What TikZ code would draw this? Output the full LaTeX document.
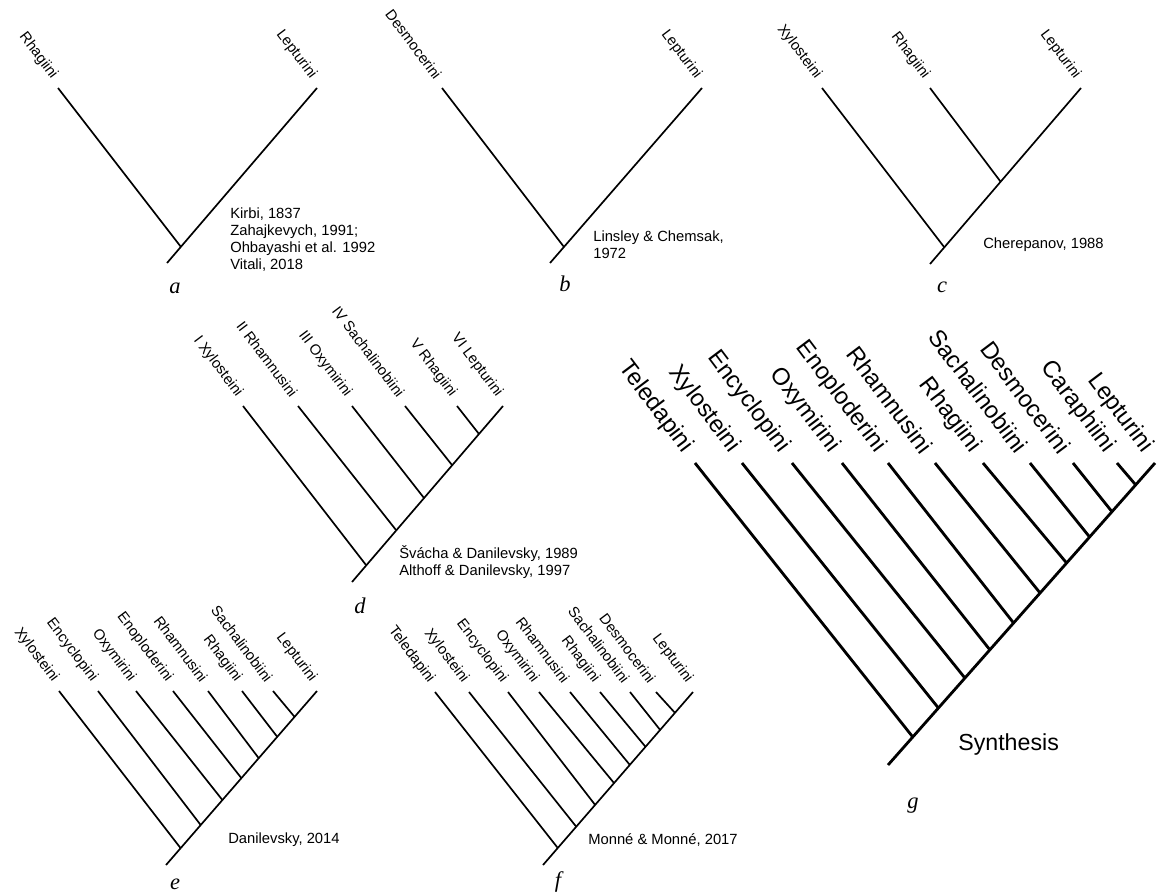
\documentclass[tikz,border=0pt]{standalone}
\usepackage{fontspec}
\setmainfont{Liberation Sans}
\newfontfamily\panelfont{Liberation Serif}
\tikzset{
  branch/.style={line width=1.2pt},
  bigbranch/.style={line width=2pt},
  taxon/.style={anchor=east, rotate=-53, inner sep=0pt, font=\fontsize{10.5}{12}\selectfont},
  bigtaxon/.style={anchor=east, rotate=-53, inner sep=0pt, font=\fontsize{17}{20}\selectfont},
  source/.style={anchor=north west, inner sep=0pt, align=left, font=\fontsize{10.5}{12.2}\selectfont},
  panel/.style={anchor=base, inner sep=0pt, font=\fontsize{16}{18}\panelfont\itshape}
}
\begin{document}
\begin{tikzpicture}[x=0.025cm, y=-0.025cm]
\useasboundingbox (0,0) rectangle (1168,894);
% a
\coordinate (a1) at (58,88);
\coordinate (a2) at (317,88);
\coordinate (aJ) at (181,247);
\coordinate (aR) at (167,263);
\draw [branch] (a1) -- (aJ);
\draw [branch] (aR) -- (a2);
\node [taxon] (la1) at ([xshift=-2.5pt,yshift=7.5pt]a1) {Rhagiini};
\node [taxon] (la2) at ([xshift=-2.5pt,yshift=7.5pt]a2) {Lepturini};
\node [source] (sa) at (230,207.5) {Kirbi, 1837\\Zahajkevych, 1991;\\Ohbayashi et al. 1992\\Vitali, 2018};
\node [panel] (pa) at (175,293) {a};
% b
\coordinate (b1) at (442,88);
\coordinate (b2) at (702,88);
\coordinate (bJ) at (564,247);
\coordinate (bR) at (550,263);
\draw [branch] (b1) -- (bJ);
\draw [branch] (bR) -- (b2);
\node [taxon] (lb1) at ([xshift=-2.5pt,yshift=7.5pt]b1) {Desmocerini};
\node [taxon] (lb2) at ([xshift=-2.5pt,yshift=7.5pt]b2) {Lepturini};
\node [source] (sb) at (593,230.5) {Linsley \& Chemsak,\\1972};
\node [panel] (pb) at (565,291) {b};
% c
\coordinate (c1) at (822,88);
\coordinate (c2) at (930,88);
\coordinate (c3) at (1081,88);
\coordinate (cK) at (1000.6,181.7);
\coordinate (cJ) at (944.3,247.3);
\coordinate (cR) at (930,264);
\draw [branch] (c1) -- (cJ);
\draw [branch] (c2) -- (cK);
\draw [branch] (cR) -- (c3);
\node [taxon] (lc1) at ([xshift=-2.5pt,yshift=7.5pt]c1) {Xylosteini};
\node [taxon] (lc2) at ([xshift=-2.5pt,yshift=7.5pt]c2) {Rhagiini};
\node [taxon] (lc3) at ([xshift=-2.5pt,yshift=7.5pt]c3) {Lepturini};
\node [source] (sc) at (983,237.5) {Cherepanov, 1988};
\node [panel] (pc) at (942,292) {c};
% d
\coordinate (d1) at (243,406);
\coordinate (d2) at (298,406);
\coordinate (d3) at (352,406);
\coordinate (d4) at (405,406);
\coordinate (d5) at (457,406);
\coordinate (d6) at (503,406);
\coordinate (dJ1) at (366,565);
\coordinate (dJ2) at (396,530);
\coordinate (dJ3) at (424,498);
\coordinate (dJ4) at (452,465);
\coordinate (dJ5) at (479,434);
\coordinate (dR) at (352,582);
\draw [branch] (d1) -- (dJ1);
\draw [branch] (d2) -- (dJ2);
\draw [branch] (d3) -- (dJ3);
\draw [branch] (d4) -- (dJ4);
\draw [branch] (d5) -- (dJ5);
\draw [branch] (dR) -- (d6);
\node [taxon] (ld1) at ([xshift=-2.5pt,yshift=7.5pt]d1) {I Xylosteini};
\node [taxon] (ld2) at ([xshift=-2.5pt,yshift=7.5pt]d2) {II Rhamnusini};
\node [taxon] (ld3) at ([xshift=-2.5pt,yshift=7.5pt]d3) {III Oxymirini};
\node [taxon] (ld4) at ([xshift=-2.5pt,yshift=7.5pt]d4) {IV Sachalinobiini};
\node [taxon] (ld5) at ([xshift=-2.5pt,yshift=7.5pt]d5) {V Rhagiini};
\node [taxon] (ld6) at ([xshift=-2.5pt,yshift=7.5pt]d6) {VI Lepturini};
\node [source] (sd) at (399,545) {Švácha \& Danilevsky, 1989\\Althoff \& Danilevsky, 1997};
\node [panel] (pd) at (360,613) {d};
% e
\coordinate (e1) at (59,691);
\coordinate (e2) at (98,691);
\coordinate (e3) at (136,691);
\coordinate (e4) at (173,691);
\coordinate (e5) at (208,691);
\coordinate (e6) at (242,691);
\coordinate (e7) at (273,691);
\coordinate (e8) at (317,691);
\coordinate (eJ1) at (180.5,848);
\coordinate (eJ2) at (200.7,825);
\coordinate (eJ3) at (222.4,800);
\coordinate (eJ4) at (241.3,778);
\coordinate (eJ5) at (258.6,758);
\coordinate (eJ6) at (277.4,737);
\coordinate (eJ7) at (294.7,717);
\coordinate (eR) at (166,865);
\draw [branch] (e1) -- (eJ1);
\draw [branch] (e2) -- (eJ2);
\draw [branch] (e3) -- (eJ3);
\draw [branch] (e4) -- (eJ4);
\draw [branch] (e5) -- (eJ5);
\draw [branch] (e6) -- (eJ6);
\draw [branch] (e7) -- (eJ7);
\draw [branch] (eR) -- (e8);
\node [taxon] (le1) at ([xshift=-2.5pt,yshift=7.5pt]e1) {Xylosteini};
\node [taxon] (le2) at ([xshift=-2.5pt,yshift=7.5pt]e2) {Encyclopini};
\node [taxon] (le3) at ([xshift=-2.5pt,yshift=7.5pt]e3) {Oxymirini};
\node [taxon] (le4) at ([xshift=-2.5pt,yshift=7.5pt]e4) {Enoploderini};
\node [taxon] (le5) at ([xshift=-2.5pt,yshift=7.5pt]e5) {Rhamnusini};
\node [taxon] (le6) at ([xshift=-2.5pt,yshift=7.5pt]e6) {Rhagiini};
\node [taxon] (le7) at ([xshift=-2.5pt,yshift=7.5pt]e7) {Sachalinobiini};
\node [taxon] (le8) at ([xshift=-2.5pt,yshift=7.5pt]e8) {Lepturini};
\node [source] (se) at (228,832.5) {Danilevsky, 2014};
\node [panel] (pe) at (175,889) {e};
% f
\coordinate (f1) at (435,692);
\coordinate (f2) at (469,692);
\coordinate (f3) at (508,692);
\coordinate (f4) at (539,692);
\coordinate (f5) at (570,692);
\coordinate (f6) at (600,692);
\coordinate (f7) at (630,692);
\coordinate (f8) at (656,692);
\coordinate (f9) at (693,692);
\coordinate (fJ1) at (557.8,848);
\coordinate (fJ2) at (576.5,827);
\coordinate (fJ3) at (595.2,805);
\coordinate (fJ4) at (614,783);
\coordinate (fJ5) at (629.9,765);
\coordinate (fJ6) at (645.7,747);
\coordinate (fJ7) at (660.2,730);
\coordinate (fJ8) at (675.1,713);
\coordinate (fR) at (543,865);
\draw [branch] (f1) -- (fJ1);
\draw [branch] (f2) -- (fJ2);
\draw [branch] (f3) -- (fJ3);
\draw [branch] (f4) -- (fJ4);
\draw [branch] (f5) -- (fJ5);
\draw [branch] (f6) -- (fJ6);
\draw [branch] (f7) -- (fJ7);
\draw [branch] (f8) -- (fJ8);
\draw [branch] (fR) -- (f9);
\node [taxon] (lf1) at ([xshift=-2.5pt,yshift=7.5pt]f1) {Teledapini};
\node [taxon] (lf2) at ([xshift=-2.5pt,yshift=7.5pt]f2) {Xylosteini};
\node [taxon] (lf3) at ([xshift=-2.5pt,yshift=7.5pt]f3) {Encyclopini};
\node [taxon] (lf4) at ([xshift=-2.5pt,yshift=7.5pt]f4) {Oxymirini};
\node [taxon] (lf5) at ([xshift=-2.5pt,yshift=7.5pt]f5) {Rhamnusini};
\node [taxon] (lf6) at ([xshift=-2.5pt,yshift=7.5pt]f6) {Rhagiini};
\node [taxon] (lf7) at ([xshift=-2.5pt,yshift=7.5pt]f7) {Sachalinobiini};
\node [taxon] (lf8) at ([xshift=-2.5pt,yshift=7.5pt]f8) {Desmocerini};
\node [taxon] (lf9) at ([xshift=-2.5pt,yshift=7.5pt]f9) {Lepturini};
\node [source] (sf) at (588,833) {Monné \& Monné, 2017};
\node [panel] (pf) at (558,887) {f};
% g
\coordinate (g1) at (695,463);
\coordinate (g2) at (742,463);
\coordinate (g3) at (792,463);
\coordinate (g4) at (842,463);
\coordinate (g5) at (888,463);
\coordinate (g6) at (935,463);
\coordinate (g7) at (983,463);
\coordinate (g8) at (1030,463);
\coordinate (g9) at (1073,463);
\coordinate (g10) at (1117,463);
\coordinate (g11) at (1155,463);
\coordinate (gJ1) at (912.8,737);
\coordinate (gJ2) at (938.4,708);
\coordinate (gJ3) at (964.9,678);
\coordinate (gJ4) at (990,650);
\coordinate (gJ5) at (1013.6,623);
\coordinate (gJ6) at (1040.1,593);
\coordinate (gJ7) at (1066.6,563);
\coordinate (gJ8) at (1089.6,537);
\coordinate (gJ9) at (1112.2,512);
\coordinate (gJ10) at (1135.8,485);
\coordinate (gR) at (888,765);
\draw [bigbranch] (g1) -- (gJ1);
\draw [bigbranch] (g2) -- (gJ2);
\draw [bigbranch] (g3) -- (gJ3);
\draw [bigbranch] (g4) -- (gJ4);
\draw [bigbranch] (g5) -- (gJ5);
\draw [bigbranch] (g6) -- (gJ6);
\draw [bigbranch] (g7) -- (gJ7);
\draw [bigbranch] (g8) -- (gJ8);
\draw [bigbranch] (g9) -- (gJ9);
\draw [bigbranch] (g10) -- (gJ10);
\draw [bigbranch] (gR) -- (g11);
\node [bigtaxon] (lg1) at ([xshift=-5pt,yshift=9pt]g1) {Teledapini};
\node [bigtaxon] (lg2) at ([xshift=-5pt,yshift=9pt]g2) {Xylosteini};
\node [bigtaxon] (lg3) at ([xshift=-5pt,yshift=9pt]g3) {Encyclopini};
\node [bigtaxon] (lg4) at ([xshift=-5pt,yshift=9pt]g4) {Oxymirini};
\node [bigtaxon] (lg5) at ([xshift=-5pt,yshift=9pt]g5) {Enoploderini};
\node [bigtaxon] (lg6) at ([xshift=-5pt,yshift=9pt]g6) {Rhamnusini};
\node [bigtaxon] (lg7) at ([xshift=-5pt,yshift=9pt]g7) {Rhagiini};
\node [bigtaxon] (lg8) at ([xshift=-5pt,yshift=9pt]g8) {Sachalinobiini};
\node [bigtaxon] (lg9) at ([xshift=-5pt,yshift=9pt]g9) {Desmocerini};
\node [bigtaxon] (lg10) at ([xshift=-5pt,yshift=9pt]g10) {Caraphiini};
\node [bigtaxon] (lg11) at ([xshift=-5pt,yshift=9pt]g11) {Lepturini};
\node [source, font=\fontsize{16.5}{19}\selectfont] (sg) at (958,733) {Synthesis};
\node [panel] (pg) at (913,808) {g};
\end{tikzpicture}
\end{document}
